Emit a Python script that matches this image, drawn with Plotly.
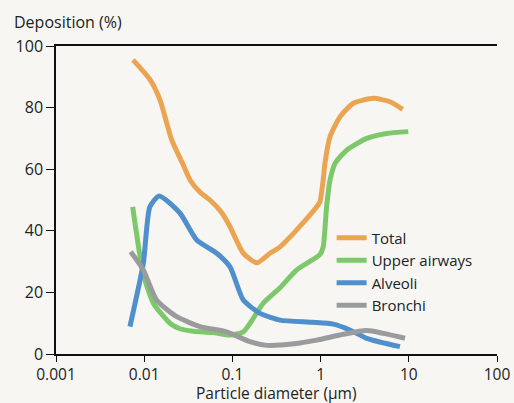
import plotly.graph_objects as go

# Particle diameter (µm) and deposition (%) per region
total_x = [0.00746, 0.0117, 0.0151, 0.0205, 0.0277, 0.0331, 0.043, 0.0557, 0.075, 0.094, 0.115, 0.133, 0.188, 0.267, 0.347, 0.536, 0.904, 0.984, 1.07, 1.12, 1.28, 1.66, 2.35, 3.96, 6.12, 8.53]
total_y = [95.5, 89, 82.5, 69.5, 61.4, 56.5, 52.5, 50, 46, 41.3, 36, 32.7, 29.6, 32.7, 34.8, 40.3, 47.8, 49.5, 56.5, 61.9, 70.6, 77, 81.4, 83, 81.9, 79.4]

upper_x = [0.0074, 0.00977, 0.0127, 0.0196, 0.0255, 0.036, 0.06, 0.094, 0.133, 0.224, 0.347, 0.536, 0.984, 1.07, 1.17, 1.28, 1.46, 1.98, 3.33, 5.61, 9.86]
upper_y = [47.8, 26, 16.5, 10, 8.2, 7.4, 7, 6.2, 7.2, 16.5, 21.5, 27.3, 32.3, 34.8, 47.8, 56.5, 61.9, 66.2, 70, 71.6, 72.2]

alveoli_x = [0.00689, 0.00977, 0.0116, 0.0148, 0.0255, 0.0394, 0.0664, 0.094, 0.133, 0.206, 0.347, 0.8, 1.39, 2.15, 3.33, 7.94]
alveoli_y = [8.9, 29.4, 47.8, 51.3, 45.7, 37.0, 32.7, 28.3, 17.5, 13.2, 11, 10.3, 9.7, 7.8, 5.1, 2.4]

bronchi_x = [0.00703, 0.00977, 0.0138, 0.0234, 0.043, 0.086, 0.158, 0.245, 0.5, 0.904, 1.81, 3.33, 5.14, 9.06]
bronchi_y = [33.2, 27.3, 17.5, 12.1, 8.9, 7.2, 4.0, 2.8, 3.3, 4.5, 6.4, 7.6, 6.7, 5.1]

x_ticks = [0.001, 0.01, 0.1, 1, 10, 100]
x_tick_text = ["0.001", "0.01", "0.1", "1", "10", "100"]
y_ticks = [0, 20, 40, 60, 80, 100]

series = [
    ("Total", total_x, total_y, "#EBA552"),
    ("Upper airways", upper_x, upper_y, "#7CC86B"),
    ("Alveoli", alveoli_x, alveoli_y, "#4F8FCC"),
    ("Bronchi", bronchi_x, bronchi_y, "#9A9B9C"),
]

font_family = "Open Sans, Noto Sans, sans-serif"
text_color = "#222222"
bg = "#F7F6F2"

fig = go.Figure()
for name, xs, ys, color in series:
    fig.add_trace(go.Scatter(
        x=xs, y=ys, name=name, mode="lines",
        line=dict(color=color, width=5, shape="spline", smoothing=0.6),
    ))

fig.update_layout(
    width=514, height=403,
    margin=dict(l=56, r=17, t=46, b=49, autoexpand=False),
    paper_bgcolor=bg, plot_bgcolor=bg,
    font=dict(family=font_family, size=16, color=text_color),
    showlegend=True,
    legend=dict(
        x=0.625, y=0.43, xanchor="left", yanchor="top",
        bgcolor="rgba(0,0,0,0)", borderwidth=0,
        font=dict(size=15, color=text_color),
        tracegroupgap=0,
    ),
    xaxis=dict(
        type="log", range=[-3, 2], automargin=False,
        tickvals=x_ticks, ticktext=x_tick_text,
        ticks="outside", ticklen=6, tickwidth=1.2, tickcolor="#111",
        showline=True, linecolor="#111", linewidth=1.5, mirror=True,
        showgrid=False, zeroline=False,
        tickfont=dict(size=15.5, color=text_color),
    ),
    yaxis=dict(
        range=[0, 100], automargin=False,
        tickvals=y_ticks,
        ticks="outside", ticklen=8, tickwidth=1.2, tickcolor="#111",
        showline=True, linecolor="#111", linewidth=1.5,
        showgrid=False, zeroline=False,
        tickfont=dict(size=16, color=text_color),
    ),
    annotations=[
        dict(text="Deposition (%)", xref="paper", yref="paper",
             x=-44 / 441, y=1 + 24 / 308, xanchor="left", yanchor="middle",
             showarrow=False, font=dict(size=16, color=text_color)),
        dict(text="Particle diameter (µm)", xref="paper", yref="paper",
             x=0.5, y=-39 / 308, xanchor="center", yanchor="middle",
             showarrow=False, borderpad=0, font=dict(size=15.5, color=text_color)),
    ],
)

fig.write_html(
    "out.html",
    config={"displayModeBar": False},
    post_script="document.body.style.margin='0';document.body.style.background='%s';" % bg,
)
